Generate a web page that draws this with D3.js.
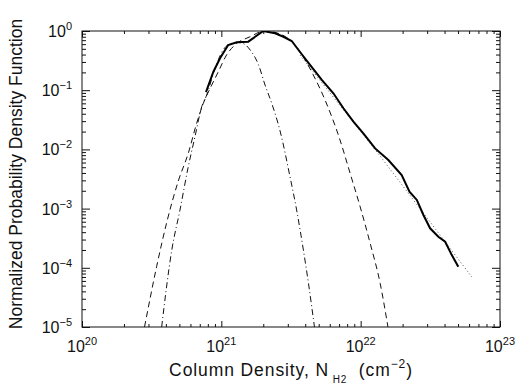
<!DOCTYPE html>
<html>
<head>
<meta charset="utf-8">
<script src="https://cdn.jsdelivr.net/npm/d3@7"></script>
<style>
  body { margin: 0; background: #fff; }
  text { font-family: "Liberation Sans", Arial, sans-serif; fill: #111; }
</style>
</head>
<body>
<script>
// column density (cm^-2) and normalized PDF
var solidN = [7.76e20, 8.77e20, 9.79e20, 1.12e21, 1.29e21, 1.56e21, 2.00e21, 2.43e21, 2.79e21, 3.20e21,
              3.67e21, 4.33e21, 5.26e21, 6.37e21, 7.52e21, 8.87e21, 1.045e22, 1.27e22, 1.58e22, 1.97e22,
              2.24e22, 2.53e22, 2.82e22, 3.15e22, 3.61e22, 4.04e22, 4.51e22, 5.02e22];
var solidP = [0.093, 0.205, 0.346, 0.58, 0.644, 0.66, 1.0, 0.914, 0.80, 0.678,
              0.442, 0.267, 0.149, 0.0887, 0.0495, 0.0294, 0.0187, 0.0104, 6.62e-3, 3.70e-3,
              1.93e-3, 1.40e-3, 7.8e-4, 4.65e-4, 3.35e-4, 2.76e-4, 1.64e-4, 1.04e-4];

// wide lognormal (dashed)
var dashN = [2.81e20, 3.43e20, 4.06e20, 4.91e20, 5.79e20, 6.65e20, 7.43e20, 8.53e20, 9.51e20, 1.09e21,
             1.25e21, 1.61e21, 2.03e21, 2.64e21, 3.38e21, 4.57e21, 5.55e21, 7.11e21, 8.40e21, 9.91e21,
             1.17e22, 1.38e22, 1.57e22];
var dashP = [1e-5, 1.04e-4, 5.9e-4, 2.92e-3, 8.6e-3, 0.0276, 0.060, 0.122, 0.205, 0.393,
             0.580, 0.80, 1.0, 0.89, 0.58, 0.181, 0.0683, 0.0144, 3.95e-3, 1.08e-3,
             2.59e-4, 5.47e-5, 1e-5];

// narrow lognormal (dash-dot)
var dotDashN = [3.73e20, 4.41e20, 5.05e20, 5.79e20, 6.47e20, 7.23e20, 7.86e20, 8.88e20, 1.03e21, 1.19e21,
                1.32e21, 1.48e21, 1.61e21, 1.85e21, 2.06e21, 2.30e21, 2.64e21, 3.11e21, 3.47e21, 3.88e21,
                4.22e21, 4.66e21];
var dotDashP = [1e-5, 2.0e-4, 9.5e-4, 5.1e-3, 0.0164, 0.0526, 0.083, 0.211, 0.478, 0.62,
                0.64, 0.59, 0.478, 0.267, 0.122, 0.060, 0.0205, 3.46e-3, 9.5e-4, 2.0e-4,
                5.47e-5, 1e-5];

// power-law tail fit (dotted)
var fitN = [3.67e21, 1.38e22, 6.28e22];
var fitP = [0.393, 7.7e-3, 7.0e-5];

var xExps = [20, 21, 22, 23];
var yExps = [-5, -4, -3, -2, -1, 0];

// plot box
var margin = {top: 31, right: 26, bottom: 65, left: 82},
    width = 526 - margin.left - margin.right,
    height = 392 - margin.top - margin.bottom;

var x = d3.scaleLog().domain([1e20, 1e23]).range([0, width]);
var y = d3.scaleLog().domain([1e-5, 1]).range([height, 0]);

var svg = d3.select("body").append("svg")
    .attr("width", 526)
    .attr("height", 392)
  .append("g")
    .attr("transform", "translate(" + margin.left + "," + margin.top + ")");

svg.append("clipPath").attr("id", "clip")
  .append("rect").attr("width", width).attr("height", height);

// major and minor tick values
var xMajor = xExps.map(function(e) { return Math.pow(10, e); });
var yMajor = yExps.map(function(e) { return Math.pow(10, e); });
var xMinor = [], yMinor = [];
xExps.slice(0, -1).forEach(function(e) {
  for (var k = 2; k <= 9; k++) xMinor.push(k * Math.pow(10, e));
});
yExps.slice(0, -1).forEach(function(e) {
  for (var k = 2; k <= 9; k++) yMinor.push(k * Math.pow(10, e));
});

function ticks(axis, vals, len) {
  return axis.tickValues(vals).tickSizeInner(-len).tickSizeOuter(0).tickFormat("");
}

// ticks on all four sides, pointing inward
var bottomT = "translate(0," + height + ")",
    rightT = "translate(" + width + ",0)";
svg.append("g").attr("transform", bottomT).call(ticks(d3.axisBottom(x), xMajor, 6));
svg.append("g").attr("transform", bottomT).call(ticks(d3.axisBottom(x), xMinor, 3));
svg.append("g").call(ticks(d3.axisTop(x), xMajor, 6));
svg.append("g").call(ticks(d3.axisTop(x), xMinor, 3));
svg.append("g").call(ticks(d3.axisLeft(y), yMajor, 8));
svg.append("g").call(ticks(d3.axisLeft(y), yMinor, 4));
svg.append("g").attr("transform", rightT).call(ticks(d3.axisRight(y), yMajor, 8));
svg.append("g").attr("transform", rightT).call(ticks(d3.axisRight(y), yMinor, 4));

svg.selectAll(".domain").remove();
svg.selectAll(".tick line").attr("stroke", "#111").attr("stroke-width", 1);

svg.append("rect")
    .attr("width", width).attr("height", height)
    .attr("fill", "none").attr("stroke", "#111").attr("stroke-width", 1);

// tick labels with superscript exponents
xExps.forEach(function(e) {
  var t = svg.append("text")
      .attr("x", x(Math.pow(10, e)))
      .attr("y", height + 25)
      .attr("text-anchor", "middle")
      .style("font-size", "16px");
  t.append("tspan").text("10");
  t.append("tspan").attr("dy", -7).style("font-size", "11px").text(e);
});
yExps.forEach(function(e) {
  var t = svg.append("text")
      .attr("x", -10)
      .attr("y", y(Math.pow(10, e)) + 6)
      .attr("text-anchor", "end")
      .style("font-size", "16px");
  t.append("tspan").text("10");
  t.append("tspan").attr("dy", -7).style("font-size", "11px").text(e === 0 ? "0" : "\u2212" + (-e));
});

// axis titles
var xt = svg.append("text")
    .attr("x", width / 2)
    .attr("y", height + 49)
    .attr("text-anchor", "middle")
    .style("font-size", "17.5px")
    .style("letter-spacing", "0.9px");
xt.append("tspan").text("Column Density, N");
xt.append("tspan").attr("dy", 7).style("font-size", "10px").text("\u00a0H2");
xt.append("tspan").attr("dy", -7).text("\u00a0\u00a0(cm");
xt.append("tspan").attr("dy", -8).style("font-size", "12px").text("\u22122");
xt.append("tspan").attr("dy", 8).text(")");

svg.append("text")
    .attr("transform", "translate(" + (-60) + "," + (143) + ") rotate(-90)")
    .attr("text-anchor", "middle")
    .style("font-size", "17.5px")
    .text("Normalized Probability Density Function");

// curves
function draw(ns, ps, style, curve) {
  var pts = ns.map(function(n, i) { return [n, ps[i]]; });
  var line = d3.line()
      .x(function(d) { return x(d[0]); })
      .y(function(d) { return y(d[1]); })
      .curve(curve || d3.curveLinear);
  svg.append("path")
      .datum(pts)
      .attr("clip-path", "url(#clip)")
      .attr("fill", "none")
      .attr("stroke", style.color)
      .attr("stroke-width", style.w)
      .attr("stroke-dasharray", style.dash)
      .attr("d", line);
}

draw(dashN, dashP, {color: "#111", w: 1, dash: "6,4"}, d3.curveMonotoneX);
draw(dotDashN, dotDashP, {color: "#111", w: 1, dash: "6,3,1,3"}, d3.curveMonotoneX);
draw(fitN, fitP, {color: "#555", w: 1, dash: "1,2.5"});
draw(solidN, solidP, {color: "#000", w: 2, dash: null});
</script>
</body>
</html>
